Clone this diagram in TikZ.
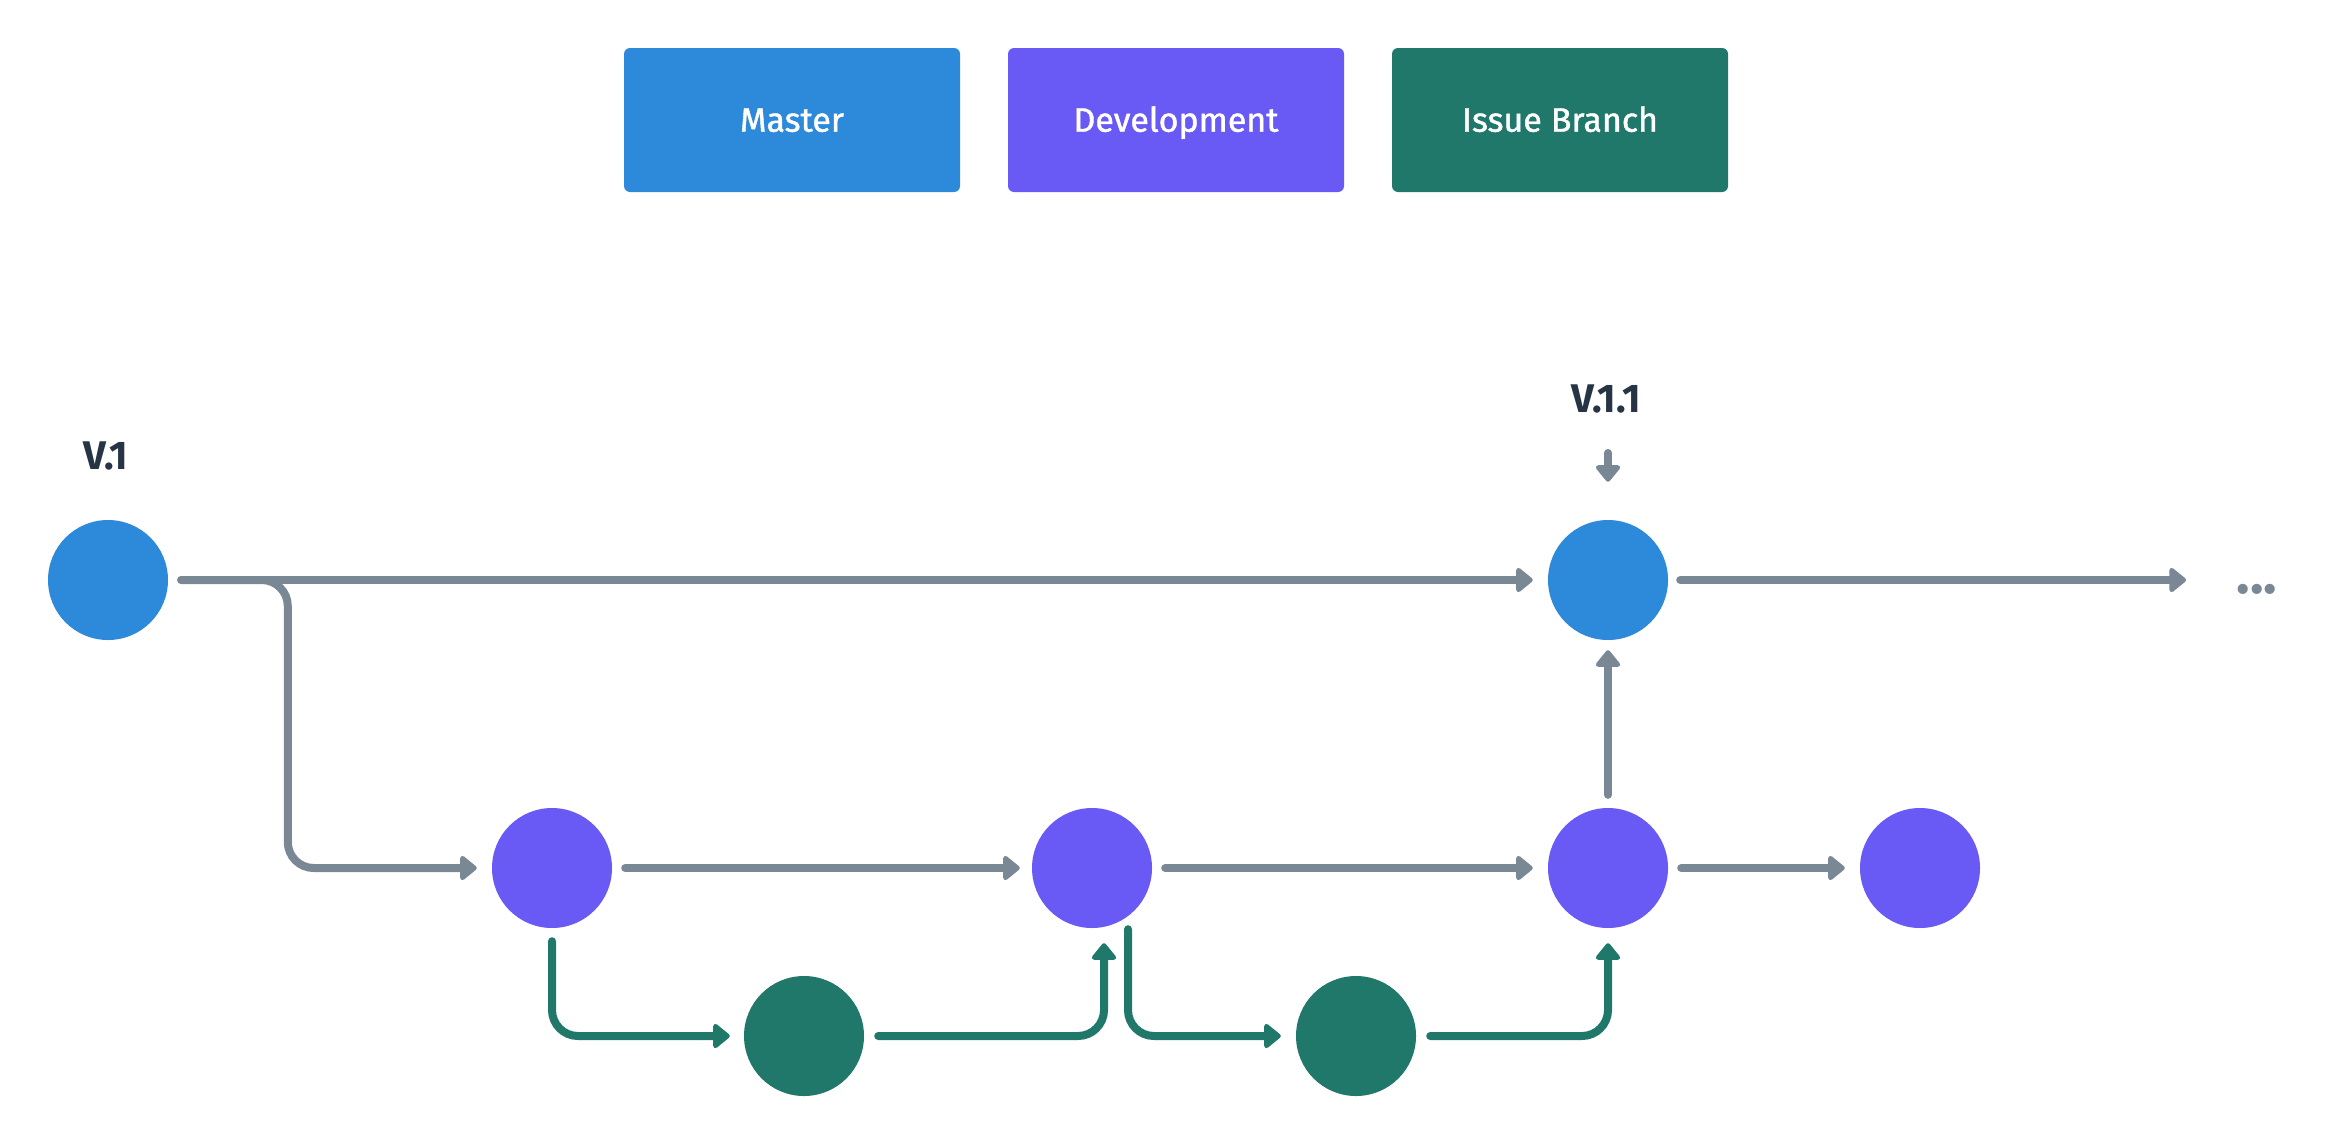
\documentclass[tikz,border=0pt]{standalone}
\usepackage{fontspec}
\setmainfont{Fira Sans}
\newfontfamily\medfont{Fira Sans}[FakeBold=1.2]
\usetikzlibrary{arrows.meta}
\definecolor{cmaster}{RGB}{45,137,217}
\definecolor{cdev}{RGB}{105,89,245}
\definecolor{cissue}{RGB}{32,120,106}
\definecolor{cgrey}{RGB}{122,136,150}
\definecolor{cdark}{RGB}{38,52,69}
\tikzset{
  legendbox/.style={rectangle, rounded corners=6pt, minimum width=336pt, minimum height=144pt,
    text=white, font=\fontsize{34}{40}\selectfont\medfont, text height=23.4pt, text depth=0pt},
  commit/.style={circle, minimum size=120pt, inner sep=0pt},
  vlabel/.style={text=cdark, font=\fontsize{40}{46}\selectfont\bfseries},
  greyarrow/.style={draw=cgrey, line width=8pt, line cap=round, -{Triangle[length=18pt,width=28pt,round]}},
  greenarrow/.style={draw=cissue, line width=8pt, line cap=round, rounded corners=26pt, -{Triangle[length=18pt,width=28pt,round]}},
}
\begin{document}
\begin{tikzpicture}[x=1pt,y=-1pt]
\useasboundingbox[fill=white] (0,0) rectangle (2352,1144);
% legend
\node[legendbox, fill=cmaster] (lm) at (792,120) {Master};
\node[legendbox, fill=cdev] (ld) at (1176,120) {Development};
\node[legendbox, fill=cissue] (li) at (1560,120) {Issue Branch};
% commits
\node[commit, fill=cmaster] (v1) at (108,580) {};
\node[commit, fill=cmaster] (v11) at (1608,580) {};
\node[commit, fill=cdev] (d1) at (552,868) {};
\node[commit, fill=cdev] (d2) at (1092,868) {};
\node[commit, fill=cdev] (d3) at (1608,868) {};
\node[commit, fill=cdev] (d4) at (1920,868) {};
\node[commit, fill=cissue] (i1) at (804,1036) {};
\node[commit, fill=cissue] (i2) at (1356,1036) {};
% labels
\node[vlabel] (lv1) at (106,456) {V.1};
\node[vlabel] (lv11) at (1606,399) {V.1.1};
\node[anchor=base, text=cgrey, font=\fontsize{56}{60}\selectfont\bfseries] (dots) at (2257,593) {...};
\coordinate (mend) at (2186,580);
\coordinate (vtop) at (1608,453);
% grey connectors
\draw[greyarrow] ([xshift=13pt]v1.east) -- ([xshift=-15pt]v11.west);
\draw[greyarrow, rounded corners=26pt] ([xshift=13pt]v1.east) -| ([xshift=-204pt]d1.west) -- ([xshift=-15pt]d1.west);
\draw[greyarrow] ([xshift=12pt]v11.east) -- (mend);
\draw[greyarrow] (vtop) -- ([yshift=38pt]v11.north);
\draw[greyarrow] ([xshift=13pt]d1.east) -- ([xshift=-12pt]d2.west);
\draw[greyarrow] ([xshift=13pt]d2.east) -- ([xshift=-15pt]d3.west);
\draw[greyarrow] ([xshift=13pt]d3.east) -- ([xshift=-15pt]d4.west);
\draw[greyarrow] ([yshift=13pt]d3.north) -- ([yshift=-10pt]v11.south);
% green connectors
\draw[greenarrow] ([yshift=-13pt]d1.south) |- ([xshift=-14pt]i1.west);
\draw[greenarrow] ([xshift=14pt]i1.east) -| ([xshift=12pt,yshift=-15pt]d2.south);
\draw[greenarrow] ([xshift=36pt,yshift=-1pt]d2.south) |- ([xshift=-15pt]i2.west);
\draw[greenarrow] ([xshift=14pt]i2.east) -| ([yshift=-15pt]d3.south);
\end{tikzpicture}
\end{document}
